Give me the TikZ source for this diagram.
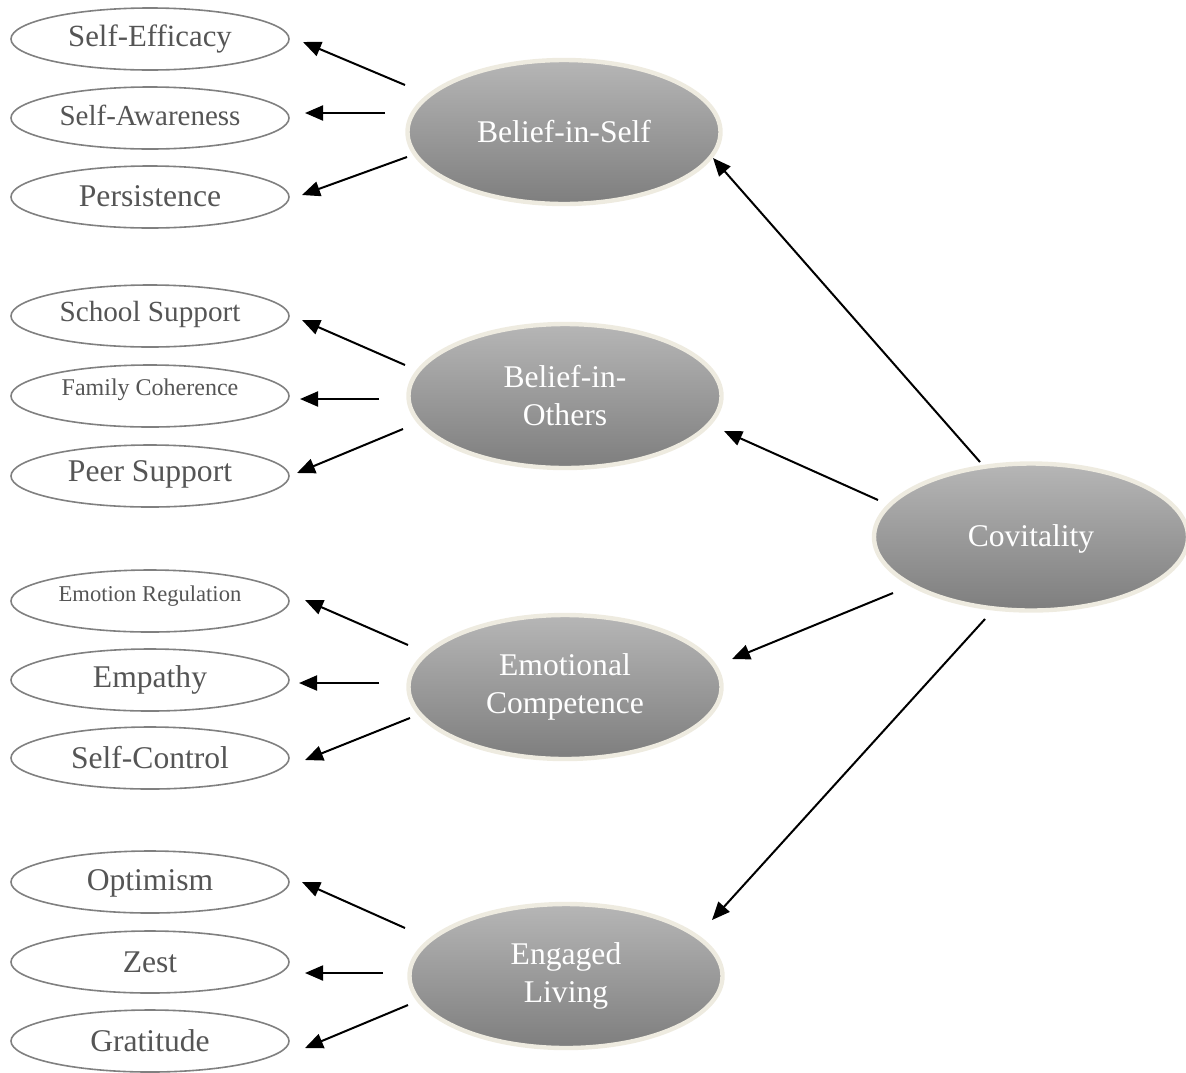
\documentclass[tikz,border=0pt]{standalone}
\usepackage{fontspec}
\setmainfont{Liberation Serif}
\usetikzlibrary{calc,arrows.meta,shapes.geometric}
\definecolor{rim}{HTML}{EEEBE0}
\definecolor{shtop}{HTML}{B6B6B6}
\definecolor{shbot}{HTML}{7E7E7E}
\definecolor{smalledge}{HTML}{808080}
\definecolor{smalltext}{HTML}{555555}
\begin{document}
\begin{tikzpicture}[x=0.5pt,y=-0.5pt,
  small/.style={ellipse,draw=smalledge,line width=0.8pt,minimum width=139pt,minimum height=31pt,inner sep=0pt},
  stext/.style={text=smalltext,inner sep=0pt,font=\fontsize{15.8}{19}\selectfont},
  big/.style={ellipse,draw=rim,line width=2.2pt,top color=shtop,bottom color=shbot,minimum width=156.5pt,minimum height=72pt,text=white,align=center,font=\fontsize{15.8}{19}\selectfont,inner sep=0pt},
  btext/.style={text=white,inner sep=0pt,font=\fontsize{15.8}{19}\selectfont},
  arr/.style={line width=1pt,-{Triangle[length=9pt,width=7.5pt]}}]
\useasboundingbox (0,0) rectangle (1186,1072);

% big ellipses
\node[big] (bs) at (564,132) {Belief-in-Self};
\node[big] (bo) at (565,396) {Belief-in-\\Others};
\node[big] (ec) at (565,687) {Emotional\\Competence};
\node[big] (el) at (566,976) {Engaged\\Living};
\node[big,minimum width=157pt,minimum height=73.5pt] (cv) at (1031,537) {};
\node[btext] (tcv) at (1031,539) {Covitality};

% small ellipses
\node[small] (se) at (150,39) {};
\node[small] (sa) at (150,118) {};
\node[small] (pe) at (150,197) {};
\node[small] (ss) at (150,316) {};
\node[small] (fc) at (150,396) {};
\node[small] (ps) at (150,476) {};
\node[small] (er) at (150,601) {};
\node[small] (em) at (150,680) {};
\node[small] (sc) at (150,758) {};
\node[small] (op) at (150,882) {};
\node[small] (ze) at (150,962) {};
\node[small] (gr) at (150,1041) {};

% small texts
\node[stext,font=\fontsize{15.4}{18}\selectfont] (tse) at (150,39) {Self-Efficacy};
\node[stext,font=\fontsize{14.5}{18}\selectfont] (tsa) at (150,115) {Self-Awareness};
\node[stext] (tpe) at (150,196) {Persistence};
\node[stext,font=\fontsize{14.6}{18}\selectfont] (tss) at (150,314) {School Support};
\node[stext,font=\fontsize{12}{15}\selectfont] (tfc) at (150,390) {Family Coherence};
\node[stext] (tps) at (150,474) {Peer Support};
\node[stext,font=\fontsize{11.3}{14}\selectfont] (ter) at (150,596) {Emotion Regulation};
\node[stext] (tem) at (150,680) {Empathy};
\node[stext] (tsc) at (150,758) {Self-Control};
\node[stext] (top) at (150,883) {Optimism};
\node[stext] (tze) at (150,962) {Zest};
\node[stext] (tgr) at (150,1041) {Gratitude};

% group 1
\draw[arr] ($(bs)+(-159,-47)$) -- ($(se)+(153,3)$);
\draw[arr] ($(bs)+(-179,-19)$) -- ($(sa)+(155,-5)$);
\draw[arr] ($(bs)+(-157,25)$) -- ($(pe)+(152,-2)$);
% group 2
\draw[arr] ($(bo)+(-160,-31)$) -- ($(ss)+(152,4)$);
\draw[arr] ($(bo)+(-186,3)$) -- ($(fc)+(150,3)$);
\draw[arr] ($(bo)+(-162,33)$) -- ($(ps)+(147,-3)$);
% group 3
\draw[arr] ($(ec)+(-157,-42)$) -- ($(er)+(155,-1)$);
\draw[arr] ($(ec)+(-186,-4)$) -- ($(em)+(149,3)$);
\draw[arr] ($(ec)+(-155,31)$) -- ($(sc)+(155,2)$);
% group 4
\draw[arr] ($(el)+(-161,-48)$) -- ($(op)+(152,0)$);
\draw[arr] ($(el)+(-183,-3)$) -- ($(ze)+(155,11)$);
\draw[arr] ($(el)+(-158,29)$) -- ($(gr)+(155,7)$);
% covitality
\draw[arr] ($(cv)+(-51,-75)$) -- ($(bs)+(149,26)$);
\draw[arr] ($(cv)+(-153,-37)$) -- ($(bo)+(159,35)$);
\draw[arr] ($(cv)+(-138,56)$) -- ($(ec)+(167,-28)$);
\draw[arr] ($(cv)+(-46,82)$) -- ($(el)+(146,-56)$);
\end{tikzpicture}
\end{document}
